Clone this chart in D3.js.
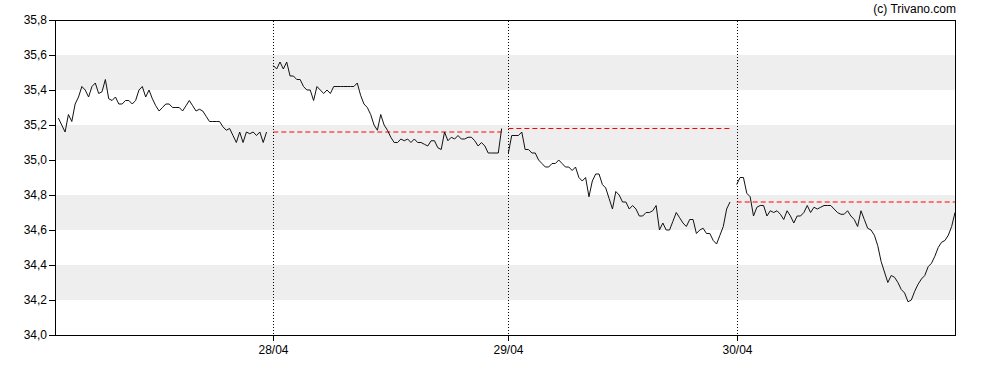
<!DOCTYPE html>
<html>
<head>
<meta charset="utf-8">
<script src="https://cdn.jsdelivr.net/npm/d3@7"></script>
<style>
  html, body { margin: 0; padding: 0; background: #fff; }
  svg { display: block; font-family: "Liberation Sans", Arial, sans-serif; }
</style>
</head>
<body>
<svg id="chart" width="988" height="370"></svg>
<script>
// intraday prices, one array per trading session
const session1 = [35.24, 35.20, 35.16, 35.26, 35.22, 35.32, 35.36, 35.42, 35.40, 35.36,
  35.42, 35.44, 35.38, 35.39, 35.46, 35.35, 35.34, 35.36, 35.32, 35.32,
  35.34, 35.34, 35.32, 35.34, 35.40, 35.42, 35.36, 35.40, 35.35, 35.31,
  35.28, 35.30, 35.32, 35.32, 35.30, 35.30, 35.30, 35.28, 35.31, 35.34,
  35.31, 35.28, 35.29, 35.28, 35.25, 35.22, 35.22, 35.22, 35.22, 35.19,
  35.17, 35.18, 35.14, 35.10, 35.16, 35.10, 35.16, 35.15, 35.16, 35.14,
  35.16, 35.10, 35.16];
const session2 = [35.54, 35.52, 35.56, 35.52, 35.56, 35.48, 35.48, 35.46, 35.46, 35.42,
  35.40, 35.40, 35.34, 35.42, 35.40, 35.38, 35.40, 35.38, 35.42, 35.42,
  35.42, 35.42, 35.42, 35.42, 35.42, 35.44, 35.37, 35.32, 35.30, 35.26,
  35.20, 35.17, 35.26, 35.20, 35.17, 35.13, 35.10, 35.10, 35.12, 35.11,
  35.12, 35.10, 35.12, 35.10, 35.10, 35.09, 35.08, 35.11, 35.11, 35.07,
  35.06, 35.16, 35.11, 35.13, 35.12, 35.14, 35.12, 35.12, 35.13, 35.13,
  35.11, 35.08, 35.10, 35.08, 35.04, 35.04, 35.04, 35.04, 35.18];
const session3 = [35.04, 35.14, 35.14, 35.14, 35.16, 35.06, 35.06, 35.04, 35.04, 35.00,
  34.98, 34.96, 34.96, 34.98, 34.98, 35.00, 34.98, 34.96, 34.96, 34.94,
  34.96, 34.90, 34.88, 34.90, 34.79, 34.88, 34.92, 34.92, 34.86, 34.84,
  34.78, 34.72, 34.82, 34.80, 34.76, 34.76, 34.72, 34.74, 34.72, 34.68,
  34.68, 34.70, 34.70, 34.71, 34.74, 34.60, 34.64, 34.60, 34.60, 34.65,
  34.70, 34.67, 34.64, 34.62, 34.66, 34.66, 34.58, 34.60, 34.61, 34.58,
  34.58, 34.54, 34.52, 34.57, 34.62, 34.72, 34.76];
const session4 = [34.86, 34.90, 34.90, 34.81, 34.79, 34.68, 34.73, 34.74, 34.74, 34.68,
  34.71, 34.70, 34.71, 34.69, 34.66, 34.71, 34.68, 34.64, 34.68, 34.68,
  34.70, 34.74, 34.70, 34.73, 34.72, 34.73, 34.74, 34.74, 34.74, 34.72,
  34.70, 34.69, 34.69, 34.71, 34.68, 34.66, 34.62, 34.71, 34.66, 34.61,
  34.60, 34.57, 34.51, 34.42, 34.36, 34.30, 34.34, 34.33, 34.30, 34.26,
  34.24, 34.19, 34.20, 34.25, 34.29, 34.32, 34.34, 34.39, 34.41, 34.45,
  34.50, 34.53, 34.54, 34.57, 34.62, 34.70];

const sessions = [session1, session2, session3, session4];
const sessionStart = [0, 64, 134, 202];          // index of first quote of each session
const prevClose = [null, 35.16, 35.18, 34.76];   // previous close reference per session
const dayLabels = [null, "28/04", "29/04", "30/04"];
const yTicks = [34.0, 34.2, 34.4, 34.6, 34.8, 35.0, 35.2, 35.4, 35.6, 35.8];
const bands = [[35.4, 35.6], [35.0, 35.2], [34.6, 34.8], [34.2, 34.4]];

const svg = d3.select("#chart");

const x = d3.scaleLinear().domain([-1, 267]).range([55, 955]);
const y = d3.scaleLinear().domain([34.0, 35.8]).range([335, 20]);

const fmt = d3.formatLocale({decimal: ",", thousands: ".", grouping: [3], currency: ["", "€"]}).format(".1f");

// grey bands
svg.append("g")
  .selectAll("rect")
  .data(bands)
  .join("rect")
    .attr("x", 56)
    .attr("width", 899)
    .attr("y", d => y(d[1]))
    .attr("height", d => y(d[0]) - y(d[1]))
    .attr("fill", "#eeeeee");

// day separators
const seps = sessionStart.slice(1);
svg.append("g")
  .selectAll("line")
  .data(seps)
  .join("line")
    .attr("x1", d => Math.round(x(d)) + 0.5)
    .attr("x2", d => Math.round(x(d)) + 0.5)
    .attr("y1", 21)
    .attr("y2", 335)
    .attr("stroke", "#000")
    .attr("stroke-dasharray", "1,2");

// previous close lines
svg.append("g")
  .selectAll("line")
  .data(sessions.map((s, i) => ({s, i})).filter(d => prevClose[d.i] != null))
  .join("line")
    .attr("x1", d => x(sessionStart[d.i]))
    .attr("x2", d => x(sessionStart[d.i] + d.s.length - 1))
    .attr("y1", d => y(prevClose[d.i]))
    .attr("y2", d => y(prevClose[d.i]))
    .attr("stroke", "#ff0000")
    .attr("stroke-width", 1)
    .attr("stroke-dasharray", "5,3");

// price line, one path per session
const line = d3.line()
  .x((d, i, arr) => x(arr.start + i))
  .y(d => y(d));

sessions.forEach((s, k) => {
  const pts = s.slice();
  pts.start = sessionStart[k];
  svg.append("path")
    .attr("d", line(pts))
    .attr("fill", "none")
    .attr("stroke", "#111")
    .attr("stroke-width", 1)
    .attr("stroke-linejoin", "round");
});

// frame
svg.append("rect")
  .attr("x", 55.5)
  .attr("y", 20.5)
  .attr("width", 900)
  .attr("height", 315)
  .attr("fill", "none")
  .attr("stroke", "#000");

// y axis
const yAxis = svg.append("g")
  .attr("transform", "translate(55,0)")
  .call(d3.axisLeft(y).tickValues(yTicks).tickSize(6).tickPadding(2).tickFormat(fmt));
yAxis.select(".domain").remove();
yAxis.selectAll("text").attr("font-size", 12).attr("fill", "#000").attr("font-family", null);
yAxis.selectAll("line").attr("stroke", "#000");

// x axis ticks & labels
const xt = svg.append("g");
xt.selectAll("line")
  .data(seps)
  .join("line")
    .attr("x1", d => Math.round(x(d)) + 0.5)
    .attr("x2", d => Math.round(x(d)) + 0.5)
    .attr("y1", 335)
    .attr("y2", 341)
    .attr("stroke", "#000");
xt.selectAll("text")
  .data(seps)
  .join("text")
    .attr("x", d => Math.round(x(d)) + 0.5)
    .attr("y", 354)
    .attr("text-anchor", "middle")
    .attr("font-size", 12)
    .attr("fill", "#000")
    .text((d, i) => dayLabels[i + 1]);

// copyright
svg.append("text")
  .attr("x", 956)
  .attr("y", 12.5)
  .attr("text-anchor", "end")
  .attr("font-size", 12)
  .attr("fill", "#000")
  .text("(c) Trivano.com");
</script>
</body>
</html>
